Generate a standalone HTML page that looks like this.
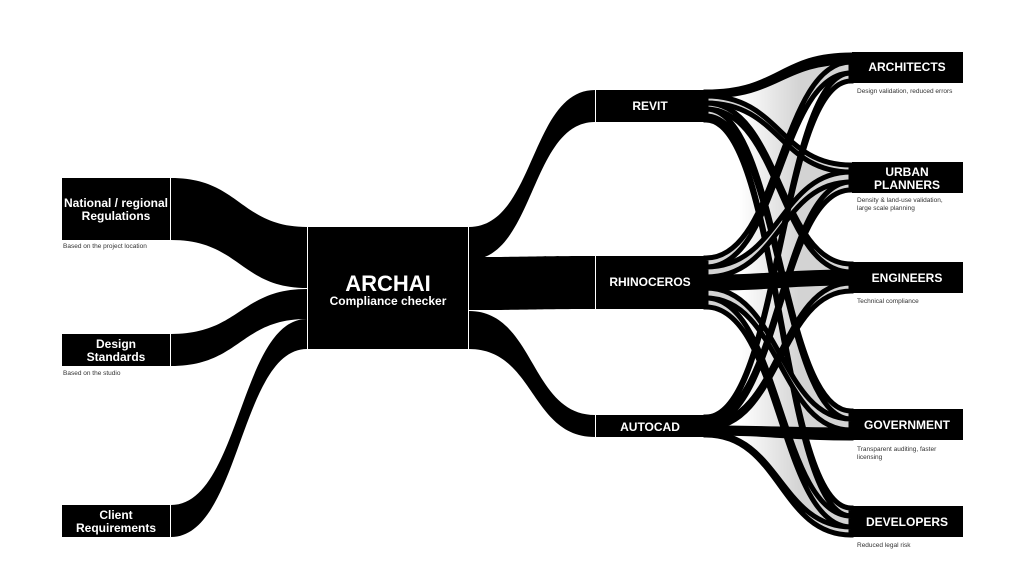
<!DOCTYPE html>
<html><head><meta charset="utf-8"><style>
body{margin:0;background:#fff;width:1024px;height:576px;overflow:hidden;font-family:"Liberation Sans",sans-serif}
svg{display:block}
.l{fill:#fff;font-weight:bold;font-size:12px;text-anchor:middle}
.c{fill:#333;font-size:6.5px}
</style></head><body>
<svg width="1024" height="576" viewBox="0 0 1024 576">
<defs>
<linearGradient id="g" gradientUnits="userSpaceOnUse" x1="740" y1="0" x2="800" y2="0">
<stop offset="0" stop-color="#000"/><stop offset="1" stop-color="#fff"/></linearGradient>
<mask id="m" maskUnits="userSpaceOnUse" x="0" y="0" width="1024" height="576"><rect x="700" y="0" width="160" height="576" fill="url(#g)"/></mask>
</defs>
<g fill="#d3d3d3" mask="url(#m)">
<path d="M706,92 C780,92 780,55 851,55 L851,73 C780,73 780,267 706,267Z"/>
<path d="M706,96 C780,96 780,165 851,165 L851,190 C780,190 780,424 706,424Z"/>
<path d="M706,103 C780,103 780,264 851,264 L851,291 C780,291 780,428 706,428Z"/>
<path d="M706,109 C780,109 780,411 851,411 L851,438 C780,438 780,433 706,433Z"/>
<path d="M706,116 C780,116 780,508 851,508 L851,535 C780,535 780,435 706,435Z"/>
</g>
<g fill="#000">
<path d="M171,178 C240,178 240,227 307,227 L307,288 C240,288 240,240 171,240Z"/>
<path d="M171,334 C240,334 240,289 307,289 L307,319 C240,319 240,366 171,366Z"/>
<path d="M171,505 C240,505 240,319 307,319 L307,349 C240,349 240,537 171,537Z"/>
<path d="M469,227 C535,227 530,90 595,90 L595,122 C530,122 535,260 469,260Z"/>
<path d="M469,257 C535,257 530,256 595,256 L595,309 C530,309 535,310 469,310Z"/>
<path d="M469,311 C535,311 530,415 595,415 L595,437 C530,437 535,349 469,349Z"/>
<rect x="62" y="178" width="108" height="62"/>
<rect x="62" y="334" width="108" height="32"/>
<rect x="62" y="505" width="108" height="32"/>
<rect x="308" y="227" width="160" height="122"/>
<rect x="596" y="90" width="109" height="32"/>
<rect x="596" y="256" width="109" height="53"/>
<rect x="596" y="415" width="109" height="22"/>
<rect x="852" y="52" width="111" height="31"/>
<rect x="852" y="162" width="111" height="31"/>
<rect x="852" y="262" width="111" height="31"/>
<rect x="852" y="409" width="111" height="31"/>
<rect x="852" y="506" width="111" height="31"/>
</g>
<g fill="#d3d3d3" stroke="#000" stroke-width="5">
<path d="M706,92 C780,92 780,55 851,55 L851,62 C780,62 780,96 706,96Z" fill="#000"/>
<path d="M706,96 C780,96 780,165 851,165 L851,172 C780,172 780,103 706,103Z"/>
<path d="M706,103 C780,103 780,264 851,264 L851,272 C780,272 780,109 706,109Z"/>
<path d="M706,109 C780,109 780,411 851,411 L851,419 C780,419 780,116 706,116Z"/>
<path d="M706,116 C780,116 780,508 851,508 L851,516 C780,516 780,120 706,120Z"/>
<path d="M706,258 C780,258 780,62 851,62 L851,73 C780,73 780,267 706,267Z"/>
<path d="M706,267 C780,267 780,172 851,172 L851,182 C780,182 780,277 706,277Z"/>
<path d="M706,277 C780,277 780,272 851,272 L851,283 C780,283 780,288 706,288Z" fill="#000"/>
<path d="M706,288 C780,288 780,419 851,419 L851,430 C780,430 780,298 706,298Z"/>
<path d="M706,298 C780,298 780,516 851,516 L851,527 C780,527 780,307 706,307Z"/>
<path d="M706,417 C780,417 780,73 851,73 L851,81 C780,81 780,419 706,419Z"/>
<path d="M706,419 C780,419 780,182 851,182 L851,190 C780,190 780,424 706,424Z"/>
<path d="M706,424 C780,424 780,283 851,283 L851,291 C780,291 780,428 706,428Z"/>
<path d="M706,428 C780,428 780,430 851,430 L851,438 C780,438 780,433 706,433Z" fill="#000"/>
<path d="M706,433 C780,433 780,527 851,527 L851,535 C780,535 780,435 706,435Z"/>
</g>
<text class="l" x="116" y="207">National / regional</text>
<text class="l" x="116" y="220">Regulations</text>
<text class="c" x="63" y="248">Based on the project location</text>
<text class="l" x="116" y="348">Design</text>
<text class="l" x="116" y="361">Standards</text>
<text class="c" x="63" y="375">Based on the studio</text>
<text class="l" x="116" y="519">Client</text>
<text class="l" x="116" y="532">Requirements</text>
<text class="l" x="388" y="291" style="font-size:22px">ARCHAI</text>
<text class="l" x="388" y="305" style="font-size:12px">Compliance checker</text>
<text class="l" x="650" y="110">REVIT</text>
<text class="l" x="650" y="286">RHINOCEROS</text>
<text class="l" x="650" y="431">AUTOCAD</text>
<text class="l" x="907" y="71">ARCHITECTS</text>
<text class="c" x="857" y="93">Design validation, reduced errors</text>
<text class="l" x="907" y="176">URBAN</text>
<text class="l" x="907" y="189">PLANNERS</text>
<text class="c" x="857" y="202">Density &amp; land-use validation,</text>
<text class="c" x="857" y="210">large scale planning</text>
<text class="l" x="907" y="282">ENGINEERS</text>
<text class="c" x="857" y="303">Technical compliance</text>
<text class="l" x="907" y="429">GOVERNMENT</text>
<text class="c" x="857" y="451">Transparent auditing, faster</text>
<text class="c" x="857" y="459">licensing</text>
<text class="l" x="907" y="526">DEVELOPERS</text>
<text class="c" x="857" y="547">Reduced legal risk</text>
</svg>
</body></html>
